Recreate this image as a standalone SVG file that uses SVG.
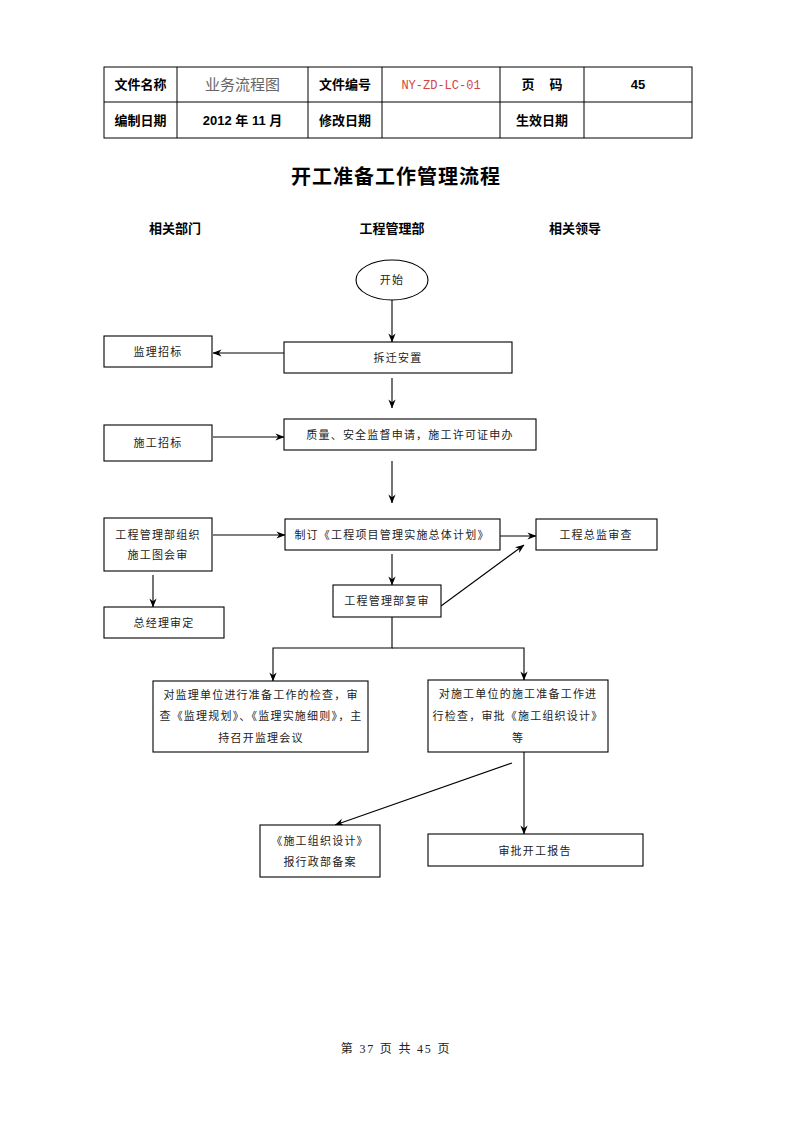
<svg xmlns="http://www.w3.org/2000/svg" width="793" height="1122" viewBox="0 0 793 1122">
<style>
.bg{fill:#fff}
.cell{fill:none;stroke:#000;stroke-width:1}
.box{fill:#fff;stroke:#000;stroke-width:1.1}
.lab{font-family:"Liberation Sans","Noto Sans CJK SC",sans-serif;font-size:13px;font-weight:bold;fill:#000;text-anchor:middle}
.t{font-family:"Liberation Serif","Noto Sans CJK SC",serif;font-size:11px;fill:#222;text-anchor:middle;letter-spacing:1.2px}
.con{fill:none;stroke:#000;stroke-width:1.1}
</style>
<defs>
<marker id="ah" viewBox="0 0 10 10" refX="9.5" refY="5" markerWidth="9" markerHeight="9" markerUnits="userSpaceOnUse" orient="auto">
<path d="M0,1 L10,5 L0,9 L3,5 Z" fill="#000"/>
</marker>
</defs>
<rect class="bg" x="0" y="0" width="793" height="1122"/>

<g id="header-table">
<rect class="cell" x="104" y="67" width="588" height="71"/>
<line class="cell" x1="104" y1="102" x2="692" y2="102"/>
<line class="cell" x1="177" y1="67" x2="177" y2="138"/>
<line class="cell" x1="308" y1="67" x2="308" y2="138"/>
<line class="cell" x1="382" y1="67" x2="382" y2="138"/>
<line class="cell" x1="500" y1="67" x2="500" y2="138"/>
<line class="cell" x1="584" y1="67" x2="584" y2="138"/>
<text class="lab" x="140.5" y="89">文件名称</text>
<text x="242.5" y="90" font-family="Liberation Serif,'Noto Sans CJK SC',serif" font-size="15" fill="#666" text-anchor="middle">业务流程图</text>
<text class="lab" x="345" y="89">文件编号</text>
<text x="441" y="89" font-family="Liberation Mono,monospace" font-size="12" fill="#d04545" text-anchor="middle">NY-ZD-LC-01</text>
<text class="lab" x="528" y="89">页</text>
<text class="lab" x="556" y="89">码</text>
<text class="lab" x="638" y="89">45</text>
<text class="lab" x="140.5" y="125">编制日期</text>
<text class="lab" x="242.5" y="125">2012 年 11 月</text>
<text class="lab" x="345" y="125">修改日期</text>
<text class="lab" x="542" y="125">生效日期</text>
</g>

<g id="title">
<text x="396" y="184" font-family="Liberation Sans,'Noto Sans CJK SC',sans-serif" font-size="20" font-weight="bold" text-anchor="middle" letter-spacing="1">开工准备工作管理流程</text>
<text class="lab" x="175" y="233">相关部门</text>
<text class="lab" x="392" y="233">工程管理部</text>
<text class="lab" x="575" y="233">相关领导</text>
</g>

<g id="connectors">
<line class="con" x1="392" y1="300" x2="392" y2="342" marker-end="url(#ah)"/>
<line class="con" x1="284" y1="353" x2="213" y2="353" marker-end="url(#ah)"/>
<line class="con" x1="392" y1="378" x2="392" y2="408" marker-end="url(#ah)"/>
<line class="con" x1="213" y1="437" x2="284" y2="437" marker-end="url(#ah)"/>
<line class="con" x1="392" y1="461" x2="392" y2="503" marker-end="url(#ah)"/>
<line class="con" x1="213" y1="535" x2="285" y2="535" marker-end="url(#ah)"/>
<line class="con" x1="500" y1="536" x2="536" y2="536" marker-end="url(#ah)"/>
<line class="con" x1="153" y1="575" x2="153" y2="607" marker-end="url(#ah)"/>
<line class="con" x1="392" y1="554" x2="392" y2="585" marker-end="url(#ah)"/>
<line class="con" x1="441" y1="606" x2="524" y2="545" marker-end="url(#ah)"/>
<polyline class="con" points="392,617 392,648 273,648 273,681" marker-end="url(#ah)"/>
<polyline class="con" points="392,648 524,648 524,680" marker-end="url(#ah)"/>
<line class="con" x1="512" y1="763" x2="335" y2="825" marker-end="url(#ah)"/>
<line class="con" x1="524" y1="752" x2="524" y2="834" marker-end="url(#ah)"/>
</g>

<g id="start">
<ellipse class="box" cx="392" cy="280" rx="36" ry="20"/>
<text class="t" x="392" y="284">开始</text>
</g>
<g id="chaiqian">
<rect class="box" x="284" y="342" width="228" height="31"/>
<text class="t" x="398" y="362">拆迁安置</text>
</g>
<g id="jianli-zhaobiao">
<rect class="box" x="104" y="336" width="108" height="31"/>
<text class="t" x="158" y="356">监理招标</text>
</g>
<g id="zhiliang">
<rect class="box" x="284" y="419" width="252" height="31"/>
<text class="t" x="410" y="439">质量、安全监督申请，施工许可证申办</text>
</g>
<g id="shigong-zhaobiao">
<rect class="box" x="104" y="425" width="108" height="36"/>
<text class="t" x="158" y="447">施工招标</text>
</g>
<g id="huishen">
<rect class="box" x="104" y="518" width="108" height="53"/>
<text class="t" x="158" y="539">工程管理部组织</text>
<text class="t" x="158" y="559">施工图会审</text>
</g>
<g id="zhiding">
<rect class="box" x="285" y="519" width="215" height="31"/>
<text class="t" x="392" y="539">制订《工程项目管理实施总体计划》</text>
</g>
<g id="zongjian">
<rect class="box" x="536" y="519" width="121" height="31"/>
<text class="t" x="596" y="539">工程总监审查</text>
</g>
<g id="zongjingli">
<rect class="box" x="104" y="607" width="120" height="31"/>
<text class="t" x="164" y="627">总经理审定</text>
</g>
<g id="fushen">
<rect class="box" x="333" y="585" width="108" height="32"/>
<text class="t" x="387" y="605">工程管理部复审</text>
</g>
<g id="jianli-jiancha">
<rect class="box" x="153" y="681" width="215" height="71"/>
<text class="t" x="261" y="699">对监理单位进行准备工作的检查，审</text>
<text class="t" x="261" y="720">查《监理规划》、《监理实施细则》，主</text>
<text class="t" x="261" y="742">持召开监理会议</text>
</g>
<g id="shigong-jiancha">
<rect class="box" x="428" y="680" width="180" height="72"/>
<text class="t" x="518" y="698">对施工单位的施工准备工作进</text>
<text class="t" x="518" y="720">行检查，审批《施工组织设计》</text>
<text class="t" x="518" y="742">等</text>
</g>
<g id="beian">
<rect class="box" x="260" y="825" width="120" height="52"/>
<text class="t" x="320" y="845">《施工组织设计》</text>
<text class="t" x="320" y="866">报行政部备案</text>
</g>
<g id="kaigong">
<rect class="box" x="428" y="834" width="215" height="32"/>
<text class="t" x="535" y="855">审批开工报告</text>
</g>

<g id="footer">
<text x="396" y="1053" font-family="Liberation Serif,'Noto Sans CJK SC',serif" font-size="12" fill="#222" text-anchor="middle" letter-spacing="1.8">第 37 页 共 45 页</text>
</g>
</svg>
